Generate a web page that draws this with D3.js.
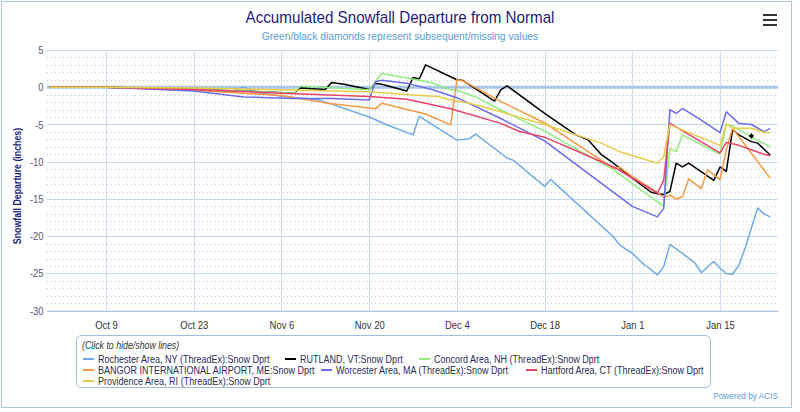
<!DOCTYPE html>
<html><head><meta charset="utf-8">
<script src="https://cdn.jsdelivr.net/npm/d3@7"></script>
<style>body{margin:0;background:#fff}svg{display:block}</style>
</head><body><svg id="chart" width="800" height="412"></svg>
<script>
// ---------- data ----------
const rochester = [["2023-09-30",0],["2023-10-09",0],["2023-10-23",-0.2],["2023-10-29",-0.5],["2023-10-31",0.0],["2023-11-02",-0.7],["2023-11-06",-1.2],["2023-11-12",-1.7],["2023-11-20",-4.0],["2023-11-23",-5.1],["2023-11-27",-6.4],["2023-11-28",-3.9],["2023-12-04",-7.1],["2023-12-06",-6.9],["2023-12-07",-6.3],["2023-12-12",-9.5],["2023-12-13",-9.8],["2023-12-18",-13.3],["2023-12-19",-12.4],["2023-12-29",-20.1],["2023-12-30",-21.2],["2024-01-01",-22.3],["2024-01-03",-23.9],["2024-01-04",-24.5],["2024-01-05",-25.2],["2024-01-06",-24.1],["2024-01-07",-21.1],["2024-01-09",-22.3],["2024-01-11",-23.6],["2024-01-12",-24.9],["2024-01-14",-23.4],["2024-01-15",-24.3],["2024-01-16",-25.0],["2024-01-17",-25.1],["2024-01-18",-23.9],["2024-01-19",-21.6],["2024-01-20",-18.9],["2024-01-21",-16.2],["2024-01-22",-17.0],["2024-01-23",-17.4]];
const rutland = [["2023-09-30",0],["2023-10-09",0],["2023-10-23",-0.3],["2023-11-03",-0.6],["2023-11-08",-0.8],["2023-11-09",-0.1],["2023-11-13",-0.3],["2023-11-14",0.65],["2023-11-16",0.4],["2023-11-20",-0.3],["2023-11-21",0.5],["2023-11-22",0.4],["2023-11-26",-0.5],["2023-11-27",1.3],["2023-11-28",1.1],["2023-11-29",3.0],["2023-12-04",1.0],["2023-12-05",0.9],["2023-12-10",-1.85],["2023-12-11",-0.35],["2023-12-12",0.2],["2023-12-18",-3.5],["2023-12-23",-6.4],["2023-12-25",-7.1],["2023-12-27",-9.0],["2023-12-29",-10.2],["2024-01-01",-12.2],["2024-01-04",-14.1],["2024-01-05",-14.3],["2024-01-06",-14.4],["2024-01-07",-14.0],["2024-01-08",-10.2],["2024-01-09",-10.7],["2024-01-10",-10.2],["2024-01-14",-12.5],["2024-01-15",-10.7],["2024-01-16",-11.3],["2024-01-17",-5.7],["2024-01-18",-6.4],["2024-01-20",-7.3],["2024-01-21",-7.5],["2024-01-23",-9.1]];
const concord = [["2023-09-30",0],["2023-10-09",0],["2023-10-23",-0.3],["2023-11-03",-0.6],["2023-11-08",-0.8],["2023-11-09",0.15],["2023-11-20",-0.35],["2023-11-22",1.85],["2023-11-25",1.4],["2023-11-30",0.6],["2023-12-03",-0.35],["2023-12-04",-0.4],["2023-12-07",-1.3],["2023-12-11",-3.05],["2023-12-18",-5.9],["2023-12-29",-11.1],["2024-01-06",-16.0],["2024-01-07",-8.2],["2024-01-08",-8.65],["2024-01-09",-6.4],["2024-01-15",-9.0],["2024-01-16",-5.0],["2024-01-17",-5.2],["2024-01-20",-6.7],["2024-01-23",-8.0]];
const bangor = [["2023-09-30",0],["2023-10-09",0],["2023-10-23",-0.4],["2023-11-06",-1.1],["2023-11-13",-2.1],["2023-11-21",-2.9],["2023-11-22",-2.15],["2023-11-29",-3.6],["2023-12-03",-5.05],["2023-12-04",1.0],["2023-12-05",0.85],["2023-12-11",-1.9],["2023-12-18",-4.8],["2023-12-29",-10.9],["2023-12-30",-10.75],["2024-01-01",-12.0],["2024-01-05",-14.1],["2024-01-06",-14.8],["2024-01-07",-14.5],["2024-01-08",-15.0],["2024-01-09",-14.7],["2024-01-10",-12.3],["2024-01-12",-13.6],["2024-01-13",-11.1],["2024-01-15",-12.4],["2024-01-16",-8.4],["2024-01-17",-5.5],["2024-01-23",-12.2]];
const worcester = [["2023-09-30",0],["2023-10-09",0],["2023-10-23",-0.5],["2023-10-31",-1.3],["2023-11-08",-1.5],["2023-11-14",-1.5],["2023-11-20",-1.7],["2023-11-21",0.75],["2023-11-22",0.95],["2023-11-26",0.55],["2023-11-30",-0.3],["2023-12-04",-1.4],["2023-12-11",-4.2],["2023-12-18",-7.2],["2024-01-01",-16.0],["2024-01-05",-17.4],["2024-01-06",-16.3],["2024-01-07",-3.0],["2024-01-08",-3.5],["2024-01-09",-2.85],["2024-01-12",-4.4],["2024-01-15",-6.1],["2024-01-16",-3.3],["2024-01-18",-4.85],["2024-01-20",-5.0],["2024-01-22",-5.96],["2024-01-23",-5.55]];
const hartford = [["2023-09-30",0],["2023-10-09",0],["2023-10-23",-0.3],["2023-11-06",-0.8],["2023-11-20",-1.25],["2023-11-26",-1.6],["2023-12-03",-2.9],["2023-12-11",-4.85],["2023-12-14",-5.95],["2023-12-18",-6.7],["2023-12-29",-10.7],["2024-01-05",-14.2],["2024-01-06",-12.5],["2024-01-07",-4.85],["2024-01-15",-8.8],["2024-01-16",-7.4],["2024-01-18",-7.8],["2024-01-20",-8.4],["2024-01-22",-9.0],["2024-01-23",-9.2]];
const providence = [["2023-09-30",0],["2023-10-09",0],["2023-10-23",-0.1],["2023-11-06",-0.35],["2023-11-20",-0.6],["2023-11-27",-1.05],["2023-12-01",-1.25],["2023-12-03",-1.7],["2023-12-06",-2.15],["2023-12-11",-3.3],["2023-12-18",-5.0],["2023-12-27",-7.5],["2023-12-30",-8.65],["2024-01-05",-10.2],["2024-01-06",-9.3],["2024-01-07",-5.05],["2024-01-15",-7.8],["2024-01-16",-4.9],["2024-01-17",-5.5],["2024-01-20",-5.5],["2024-01-22",-6.05],["2024-01-23",-6.1]];
const missingDiamonds = [["2024-01-20",-6.55]];

const seriesNames = ["Rochester Area, NY (ThreadEx):Snow Dprt","RUTLAND, VT:Snow Dprt","Concord Area, NH (ThreadEx):Snow Dprt","BANGOR INTERNATIONAL AIRPORT, ME:Snow Dprt","Worcester Area, MA (ThreadEx):Snow Dprt","Hartford Area, CT (ThreadEx):Snow Dprt","Providence Area, RI (ThreadEx):Snow Dprt"];
const seriesData = [rochester, rutland, concord, bangor, worcester, hartford, providence];
const xTickLabels = ["2023-10-09","2023-10-23","2023-11-06","2023-11-20","2023-12-04","2023-12-18","2024-01-01","2024-01-15"];
const yTickLabels = [5,0,-5,-10,-15,-20,-25,-30];

// ---------- styles ----------
const colors = ["#6fa9e8","#000000","#90ed7d","#f59a42","#6b6bea","#e8416a","#e6cc48"];
const FONT = "'Liberation Sans',Arial,sans-serif";
const plot = {left:47, right:778, top:50, bottom:310.7};

const parse = d3.timeParse("%Y-%m-%d");
const svg = d3.select("#chart").style("font-family", FONT);

// condensed text helper (reference uses a narrow face)
function ctext(g, tx, ty, s, str) {
  return g.append("text").attr("transform", `translate(${tx},${ty}) scale(${s},1)`).text(str);
}

svg.append("rect").attr("x",0).attr("y",0).attr("width",800).attr("height",412).attr("fill","#fff");
svg.append("rect").attr("x",1.5).attr("y",1.5).attr("width",790).attr("height",406)
  .attr("fill","none").attr("stroke","#a9c6e6").attr("stroke-width",1);

const x = d3.scaleTime().domain([new Date(2023,8,29,14), new Date(2024,0,24,6)]).range([plot.left, plot.right]);
const y = d3.scaleLinear().domain([-30,5]).range([plot.bottom, plot.top]);

// minor dotted grid
const minor = d3.range(-30,5.001,1).filter(v => v % 5 !== 0);
svg.append("g").selectAll("line").data(minor).join("line")
  .attr("x1",plot.left).attr("x2",plot.right)
  .attr("y1",d=>Math.round(y(d))+0.5).attr("y2",d=>Math.round(y(d))+0.5)
  .attr("stroke","#c8c8c8").attr("stroke-width",1).attr("stroke-dasharray","1,3");

// major horizontal grid
svg.append("g").selectAll("line").data(yTickLabels).join("line")
  .attr("x1",plot.left).attr("x2",plot.right)
  .attr("y1",d=>Math.round(y(d))+0.5).attr("y2",d=>Math.round(y(d))+0.5)
  .attr("stroke","#c9d9ee").attr("stroke-width",1);

// vertical grid
const xt = xTickLabels.map(parse);
svg.append("g").selectAll("line").data(xt).join("line")
  .attr("x1",d=>Math.round(x(d))+0.5).attr("x2",d=>Math.round(x(d))+0.5)
  .attr("y1",plot.top).attr("y2",plot.bottom)
  .attr("stroke","#cddcef").attr("stroke-width",1);

// zero plot line
svg.append("line").attr("x1",plot.left).attr("x2",plot.right)
  .attr("y1",y(0)).attr("y2",y(0)).attr("stroke","#a9c6e6").attr("stroke-width",3);

// x axis
const xAxis = svg.append("g").attr("transform",`translate(0,${plot.bottom})`)
  .call(d3.axisBottom(x).tickValues(xt).tickFormat(d3.timeFormat("%b %-d")).tickSize(0).tickPadding(10));
xAxis.select(".domain").attr("stroke","#a9c0e0");
xAxis.selectAll("text").attr("fill","#333").style("font-size","11px").style("font-family",FONT)
  .attr("transform","scale(0.86,1)");

// y axis
const yAxis = svg.append("g").attr("transform",`translate(${plot.left},0)`)
  .call(d3.axisLeft(y).tickValues(yTickLabels).tickFormat(d=>String(d)).tickSize(0).tickPadding(4));
yAxis.select(".domain").remove();
yAxis.selectAll("text").attr("fill","#55557a").style("font-size","11px").style("font-family",FONT)
  .attr("transform","scale(0.86,1)");

svg.append("text").attr("transform","translate(21,186) rotate(-90) scale(0.8,1)")
  .attr("text-anchor","middle").attr("fill","#1b1b78").style("font-size","11px").style("font-weight","bold")
  .text("Snowfall Departure (inches)");

// series
svg.append("clipPath").attr("id","clip").append("rect")
  .attr("x",plot.left).attr("y",plot.top-5).attr("width",plot.right-plot.left).attr("height",plot.bottom-plot.top+10);
const line = d3.line().x(d=>x(parse(d[0]))).y(d=>y(d[1]));
const gS = svg.append("g").attr("clip-path","url(#clip)");
seriesData.forEach((s,i)=>{
  gS.append("path").datum(s).attr("d",line).attr("fill","none")
    .attr("stroke",colors[i]).attr("stroke-width",1.5).attr("stroke-linejoin","round");
});
gS.selectAll("path.diamond").data(missingDiamonds).join("path").attr("class","diamond")
  .attr("transform",d=>`translate(${x(parse(d[0]))},${y(d[1])})`)
  .attr("d",d3.symbol(d3.symbolDiamond2,18)).attr("fill","#000");

// title
ctext(svg, 400, 23, 0.95, "Accumulated Snowfall Departure from Normal")
  .attr("text-anchor","middle").attr("fill","#1b1b78").style("font-size","16px");
ctext(svg, 400, 40, 0.94, "Green/black diamonds represent subsequent/missing values")
  .attr("text-anchor","middle").attr("fill","#5b9bd5").style("font-size","11px");

// menu icon
[15,20,25].forEach(yy=>svg.append("line").attr("x1",763).attr("x2",777).attr("y1",yy).attr("y2",yy)
  .attr("stroke","#333").attr("stroke-width",2));

// legend
svg.append("rect").attr("x",76.5).attr("y",335.5).attr("width",634).attr("height",52).attr("rx",5)
  .attr("fill","#fff").attr("stroke","#9fbde0").attr("stroke-width",1);
ctext(svg, 82, 349, 0.88, "(Click to hide/show lines)")
  .attr("fill","#333").style("font-size","10px").style("font-style","italic");
const legendPos = [[83,359],[285,359],[419,359],[83,370],[321,370],[526,370],[83,381]];
const gL = svg.append("g").selectAll("g").data(seriesNames).join("g")
  .attr("transform",(d,i)=>`translate(${legendPos[i][0]},${legendPos[i][1]})`);
gL.append("line").attr("x1",0).attr("x2",11).attr("y1",0).attr("y2",0)
  .attr("stroke",(d,i)=>colors[i]).attr("stroke-width",2);
gL.append("text").attr("transform","translate(15,3.5) scale(0.82,1)")
  .attr("fill","#2b2b55").style("font-size","11px").text(d=>d);

ctext(svg, 778, 399, 0.92, "Powered by ACIS")
  .attr("text-anchor","end").attr("fill","#5b9bd5").style("font-size","9px");
</script></body></html>
